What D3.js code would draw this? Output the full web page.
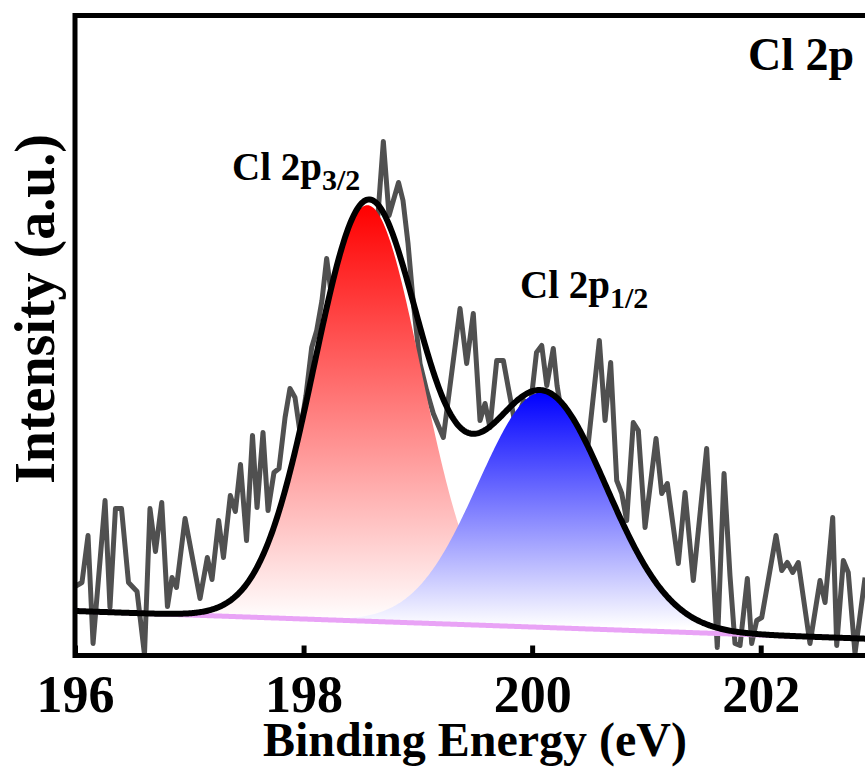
<!DOCTYPE html>
<html>
<head>
<meta charset="utf-8">
<script src="https://cdn.jsdelivr.net/npm/d3@7/dist/d3.min.js"></script>
<style>
  body { margin: 0; background: #fff; }
  text { font-family: "Liberation Serif", "Times New Roman", Times, serif; font-weight: bold; fill: #000; }
</style>
</head>
<body>
<svg id="chart" width="865" height="769"></svg>
<script>
// Cl 2p high-resolution spectrum: measured points (binding energy, eV / counts, a.u.)
const energy = [
  196.000, 196.061, 196.114, 196.158, 196.263, 196.306, 196.354, 196.407, 196.468, 196.543,
  196.608, 196.656, 196.704, 196.759, 196.809, 196.849, 196.888, 196.963, 197.094, 197.158,
  197.199, 197.257, 197.299, 197.359, 197.403, 197.448, 197.501, 197.553, 197.593, 197.645,
  197.689, 197.741, 197.785, 197.838, 197.881, 197.925, 197.969, 198.021, 198.071, 198.115,
  198.161, 198.202, 198.240, 198.293, 198.345, 198.398, 198.450, 198.503, 198.555, 198.599,
  198.651, 198.698, 198.748, 198.831, 198.870, 198.914, 198.958, 199.019, 199.077, 199.135,
  199.223, 199.369, 199.427, 199.485, 199.544, 199.588, 199.631, 199.690, 199.748, 199.791,
  199.850, 199.929, 199.981, 200.038, 200.084, 200.128, 200.185, 200.218, 200.261, 200.314,
  200.375, 200.428, 200.491, 200.588, 200.638, 200.687, 200.740, 200.784, 200.827, 200.885,
  200.929, 200.988, 201.084, 201.134, 201.183, 201.279, 201.338, 201.410, 201.527, 201.620,
  201.679, 201.731, 201.775, 201.819, 201.883, 201.921, 201.965, 202.009, 202.134, 202.184,
  202.233, 202.280, 202.329, 202.431, 202.519, 202.563, 202.630, 202.665, 202.723, 202.766,
  202.825, 202.913
];
const counts = [
   69,  73, 120,  12, 155,  48, 147, 147,  73,  64,
    1, 147, 104, 153,  49,  78,  68, 137,  57,  98,
   76, 135,  98, 160, 144, 191, 115, 220, 148, 223,
  145, 183, 187, 238, 267, 258, 223, 260, 308, 325,
  355, 397, 363, 355, 390, 365, 403, 380, 417, 393,
  441, 514, 440, 473, 455, 412, 355, 292, 265, 242,
  218, 347, 292, 342, 235, 252, 228, 295, 295, 268,
  232, 255, 245, 303, 310, 270, 307, 270, 240, 210,
  230, 200, 212, 315, 235, 293, 175, 162, 135, 233,
  225, 128, 217, 162, 172,  92, 163,  75, 207,   8,
  182,  80,  12,  10,  77,  12,  35,  38, 120,  85,
   93,  83,  93,  12,  75,  53, 138,  10,  95,  83,
    2,  78
];

// Fitted doublet components (Gaussian) and linear background
const peakLabels  = ["3/2", "1/2"];
const peakCenters = [198.56, 200.09];
const peakSigmas  = [0.47, 0.56];
const peakHeights = [416, 235];
const peakColors  = ["#ff0000", "#0000ff"];
const bgEnergy = [196.0, 203.0];
const bgLevel  = [44.5, 16.5];

const xTicks = [196, 198, 200, 202];

const svg = d3.select("#chart");
const plotL = 75, plotR = 875, plotT = 15.5, plotB = 655.5;

const x = d3.scaleLinear().domain([196, 203]).range([plotL, plotR]);
const y = d3.scaleLinear().domain([0, 640]).range([plotB, plotT]);
const bg = d3.scaleLinear().domain(bgEnergy).range(bgLevel);

const gauss = (k, e) => peakHeights[k] * Math.exp(-((e - peakCenters[k]) ** 2) / (2 * peakSigmas[k] ** 2));
const grid = d3.range(196, 203.0001, 0.01);

const defs = svg.append("defs");
defs.append("clipPath").attr("id", "plot-clip")
  .append("rect").attr("x", plotL).attr("y", plotT).attr("width", plotR - plotL).attr("height", plotB - plotT);

const plot = svg.append("g").attr("clip-path", "url(#plot-clip)");

// raw spectrum
const raw = energy.map((e, i) => ({ e, v: counts[i] }));
plot.append("path")
  .datum(raw)
  .attr("fill", "none")
  .attr("stroke", "#505050")
  .attr("stroke-width", 5)
  .attr("stroke-linejoin", "round")
  .attr("d", d3.line().x(d => x(d.e)).y(d => y(d.v)));

// component areas with vertical colour fades
peakCenters.forEach((c, k) => {
  const gid = "fade" + k;
  const g = defs.append("linearGradient").attr("id", gid)
    .attr("gradientUnits", "userSpaceOnUse")
    .attr("x1", 0).attr("x2", 0)
    .attr("y1", y(bg(c) + peakHeights[k]))
    .attr("y2", y(bg(c)));
  g.append("stop").attr("offset", 0).attr("stop-color", peakColors[k]);
  g.append("stop").attr("offset", 1).attr("stop-color", "#ffffff");
  const pts = grid.filter(e => Math.abs(e - c) <= 4.5 * peakSigmas[k]);
  plot.append("path")
    .datum(pts)
    .attr("fill", `url(#${gid})`)
    .attr("d", d3.area()
      .x(e => x(e))
      .y0(e => y(bg(e)))
      .y1(e => y(bg(e) + gauss(k, e))));
});

// background
plot.append("path")
  .datum(grid)
  .attr("fill", "none")
  .attr("stroke", "#e9a3f6")
  .attr("stroke-width", 5)
  .attr("d", d3.line().x(e => x(e)).y(e => y(bg(e))));

// envelope
plot.append("path")
  .datum(grid)
  .attr("fill", "none")
  .attr("stroke", "#000")
  .attr("stroke-width", 6)
  .attr("d", d3.line().x(e => x(e)).y(e => y(bg(e) + gauss(0, e) + gauss(1, e))));

// frame
svg.append("rect")
  .attr("x", plotL).attr("y", plotT)
  .attr("width", plotR - plotL).attr("height", plotB - plotT)
  .attr("fill", "none").attr("stroke", "#000").attr("stroke-width", 5);

// bottom axis, ticks pointing inward
const axis = svg.append("g")
  .attr("transform", `translate(0,${plotB})`)
  .call(d3.axisBottom(x).tickValues(xTicks).tickFormat(d3.format("d")).tickSize(-10).tickPadding(20));
axis.select(".domain").remove();
axis.selectAll(".tick line").attr("stroke", "#000").attr("stroke-width", 5);
axis.selectAll(".tick text")
  .attr("font-size", 52)
  .attr("font-family", "'Liberation Serif', 'Times New Roman', serif")
  .attr("font-weight", "bold")
  .attr("fill", "#000");

// axis titles
svg.append("text")
  .attr("x", (plotL + plotR) / 2).attr("y", 756)
  .attr("text-anchor", "middle")
  .attr("font-size", 48)
  .text("Binding Energy (eV)");

svg.append("text")
  .attr("transform", "translate(54,309) rotate(-90)")
  .attr("text-anchor", "middle")
  .attr("font-size", 56)
  .text("Intensity (a.u.)");

// panel label
svg.append("text")
  .attr("x", 748).attr("y", 70)
  .attr("font-size", 46)
  .text("Cl 2p");

// component labels
const labelPos = [[232, 180], [520, 298]];
peakLabels.forEach((sub, k) => {
  const t = svg.append("text")
    .attr("x", labelPos[k][0]).attr("y", labelPos[k][1])
    .attr("font-size", 39);
  t.append("tspan").text("Cl 2p");
  t.append("tspan").attr("font-size", 30).attr("dy", 10).text(sub);
});
</script>
</body>
</html>
